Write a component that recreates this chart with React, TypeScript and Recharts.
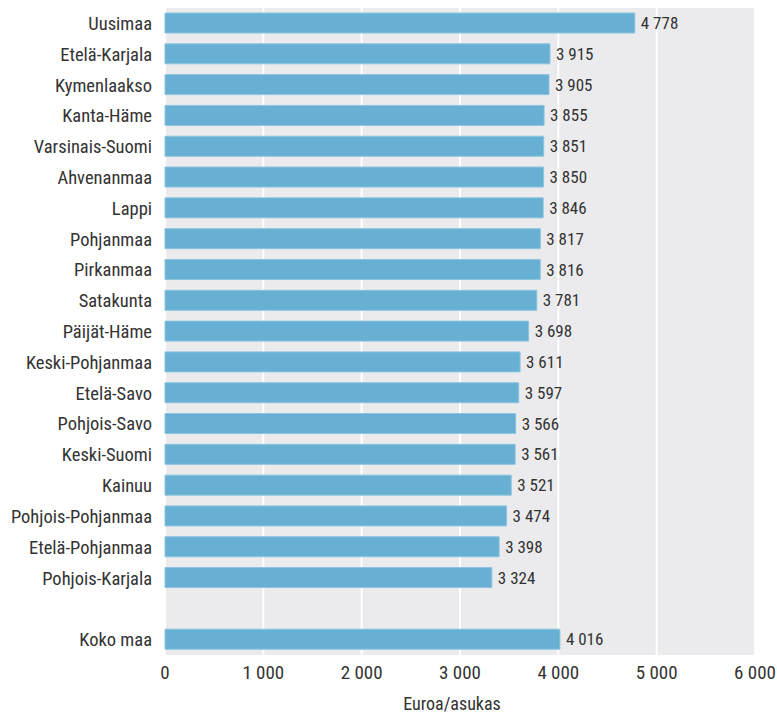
import { BarChart, Bar, XAxis, YAxis, CartesianGrid, LabelList } from "recharts";

const regions = [
  "Uusimaa",
  "Etelä-Karjala",
  "Kymenlaakso",
  "Kanta-Häme",
  "Varsinais-Suomi",
  "Ahvenanmaa",
  "Lappi",
  "Pohjanmaa",
  "Pirkanmaa",
  "Satakunta",
  "Päijät-Häme",
  "Keski-Pohjanmaa",
  "Etelä-Savo",
  "Pohjois-Savo",
  "Keski-Suomi",
  "Kainuu",
  "Pohjois-Pohjanmaa",
  "Etelä-Pohjanmaa",
  "Pohjois-Karjala",
  "",
  "Koko maa",
];

const values: (number | null)[] = [
  4778, 3915, 3905, 3855, 3851, 3850, 3846, 3817, 3816, 3781, 3698, 3611,
  3597, 3566, 3561, 3521, 3474, 3398, 3324, null, 4016,
];

const xTicks = [0, 1000, 2000, 3000, 4000, 5000, 6000];

const data = regions.map((name, i) => ({ name, value: values[i] }));

const fmt = (v: any) =>
  v === null || v === undefined || v === ""
    ? ""
    : String(v).replace(/\B(?=(\d{3})+(?!\d))/g, " ");

const font =
  '"Liberation Sans Narrow", "Roboto Condensed", "DejaVu Sans Condensed", "Liberation Sans", sans-serif';

export default function App() {
  return (
    <div
      style={{
        position: "absolute",
        left: 0,
        top: 0,
        width: 777,
        height: 713,
        background: "#fff",
        fontFamily: font,
      }}
    >
      <BarChart
        width={777}
        height={713}
        data={data}
        layout="vertical"
        margin={{ top: 8, right: 22, left: 0, bottom: 0 }}
        barSize={20}
      >
        <CartesianGrid
          horizontal={false}
          fill="#ebebee"
          stroke="#ffffff"
          strokeWidth={2}
        />
        <XAxis
          type="number"
          domain={[0, 6000]}
          ticks={xTicks}
          tickFormatter={fmt}
          axisLine={false}
          tickLine={false}
          tickSize={0}
          tickMargin={11}
          height={58}
          tick={{ fill: "#333", fontSize: 19, fontFamily: font }}
          label={{
            value: "Euroa/asukas",
            position: "insideBottom",
            offset: 3,
            dx: -8,
            fill: "#333",
            fontSize: 18,
            fontFamily: font,
          }}
        />
        <YAxis
          type="category"
          dataKey="name"
          width={165}
          axisLine={false}
          tickLine={false}
          tickSize={0}
          tickMargin={13}
          interval={0}
          tick={{ fill: "#333", fontSize: 18.5, fontFamily: font }}
        />
        <Bar
          dataKey="value"
          fill="#67b0d3"
          stroke="#8cc4df"
          strokeWidth={1}
          isAnimationActive={false}
        >
          <LabelList
            dataKey="value"
            position="right"
            offset={6}
            formatter={fmt}
            fill="#333"
            fontSize={17}
            fontFamily={font}
          />
        </Bar>
      </BarChart>
    </div>
  );
}
